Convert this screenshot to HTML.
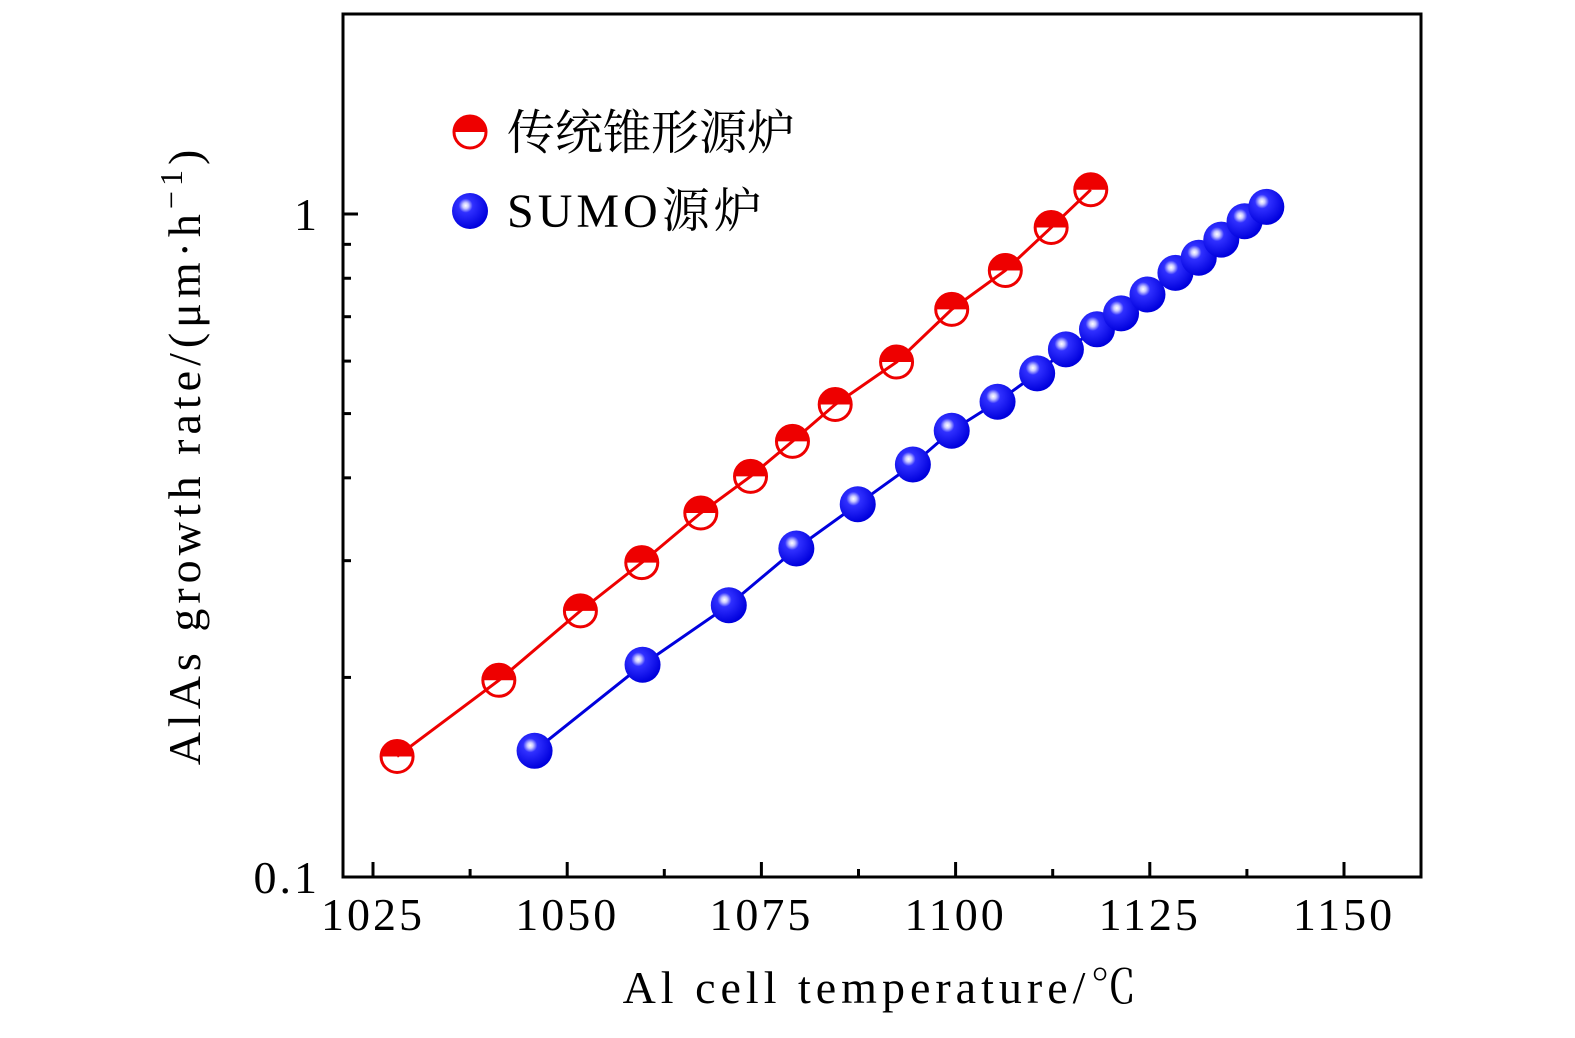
<!DOCTYPE html>
<html><head><meta charset="utf-8"><style>
html,body{margin:0;padding:0;background:#fff}
svg text{font-family:"Liberation Serif","Noto Serif CJK SC",serif;fill:#000}
</style></head><body>
<svg id="chart" width="1575" height="1033" viewBox="0 0 1575 1033" xmlns="http://www.w3.org/2000/svg">
<defs>
<radialGradient id="ball" cx="0.38" cy="0.35" r="0.65">
<stop offset="0" stop-color="#ffffff"/><stop offset="0.12" stop-color="#ccccff"/><stop offset="0.3" stop-color="#3030ff"/><stop offset="1" stop-color="#0000dd"/>
</radialGradient>
</defs>
<g id="series"></g>
<g id="axes"></g>
</svg>
<script>
const redX=[1028.1,1041.2,1051.7,1059.6,1067.2,1073.6,1079,1084.5,1092.4,1099.5,1106.4,1112.3,1117.4];
const redY=[0.152,0.198,0.252,0.298,0.354,0.402,0.454,0.516,0.598,0.718,0.822,0.954,1.088];
const blueX=[1045.8,1059.7,1070.8,1079.5,1087.4,1094.5,1099.5,1105.4,1110.5,1114.2,1118.2,1121.3,1124.7,1128.3,1131.3,1134.2,1137.2,1140];
const blueY=[0.155,0.209,0.257,0.313,0.365,0.419,0.471,0.521,0.575,0.625,0.67,0.708,0.756,0.815,0.859,0.915,0.975,1.025];
const xTicks=[1025,1050,1075,1100,1125,1150];
const yTicks=[0.1,1];
const yTickLabels=["0.1","1"];
const NS="http://www.w3.org/2000/svg";
const L=343,R=1421,T=14,B=877;
function sx(v){return 373+(v-1025)/125*(1344-373);}
function sy(v){return B-(Math.log10(v)+1)*663;}
function mk(tag,attrs,parent){const e=document.createElementNS(NS,tag);for(const k in attrs)e.setAttribute(k,attrs[k]);parent.appendChild(e);return e;}
const ax=document.getElementById('axes'),sr=document.getElementById('series');
const fr=mk('rect',{x:L,y:T,width:R-L,height:B-T,fill:'none',stroke:'#000','stroke-width':3},ax);

xTicks.forEach((v,i)=>{
 const x=sx(v);
 const t=mk('line',{x1:x,y1:B,x2:x,y2:B-15,stroke:'#000','stroke-width':3},ax);
 
 if(i<xTicks.length-1){const xm=sx(v+12.5);const m=mk('line',{x1:xm,y1:B,x2:xm,y2:B-8,stroke:'#000','stroke-width':3},ax);
 }
 const tx=mk('text',{x:x,y:930,'font-size':46,'text-anchor':'middle','letter-spacing':'3'},ax);tx.textContent=v;
 
});
yTicks.forEach((v,i)=>{
 const y=sy(v);
 const t=mk('line',{x1:L,y1:y,x2:L+15,y2:y,stroke:'#000','stroke-width':3},ax);
 
 const tx=mk('text',{x:320,y:y+16,'font-size':46,'text-anchor':'end','letter-spacing':'3'},ax);tx.textContent=yTickLabels[i];
 
});
[0.2,0.3,0.4,0.5,0.6,0.7,0.8,0.9].forEach(v=>{const y=sy(v);const m=mk('line',{x1:L,y1:y,x2:L+8,y2:y,stroke:'#000','stroke-width':3},ax);
 });
const xt=mk('text',{x:882,y:1003,'font-size':46,'text-anchor':'middle','letter-spacing':'5'},ax);xt.textContent='Al cell temperature/℃';

const yt=mk('text',{x:0,y:0,'font-size':46,'text-anchor':'middle','letter-spacing':'5',transform:'translate(200,455) rotate(-90)'},ax);yt.innerHTML='AlAs growth rate/(μm·h<tspan font-size="32" dy="-18">−1</tspan><tspan dy="18">)</tspan>';

function pts(xs,ys){return xs.map((v,i)=>sx(v)+','+sy(ys[i])).join(' ');}
const rl=mk('polyline',{points:pts(redX,redY),fill:'none',stroke:'#ee0000','stroke-width':3},sr);

const bl=mk('polyline',{points:pts(blueX,blueY),fill:'none',stroke:'#0000dd','stroke-width':3},sr);

function halfMarker(cx,cy,parent,name){
 const g=mk('g',{},parent);
 const r=16;
 mk('path',{d:`M${cx-r},${cy} A${r},${r} 0 0 1 ${cx+r},${cy} Z`,fill:'#ee0000'},g);
 mk('circle',{cx:cx,cy:cy,r:r,fill:'none',stroke:'#ee0000','stroke-width':3},g);
}
function ball(cx,cy,parent,name){
 const c=mk('circle',{cx:cx,cy:cy,r:18,fill:'url(#ball)'},parent);
 
}
redX.forEach((v,i)=>halfMarker(sx(v),sy(redY[i]),sr,'red-point'));
blueX.forEach((v,i)=>ball(sx(v),sy(blueY[i]),sr,'blue-point'));
const lg=mk('g',{},sr);
halfMarker(470,132,lg,'legend-red-marker');
ball(470,211,lg,'legend-blue-marker');
const l1=mk('text',{x:507,y:149,'font-size':48},lg);l1.textContent='传统锥形源炉';

const l2=mk('text',{x:507,y:227,'font-size':48,'letter-spacing':'4'},lg);l2.textContent='SUMO源炉';

</script>
</body></html>
